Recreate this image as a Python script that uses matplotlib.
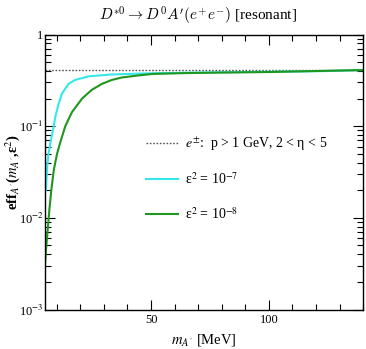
import matplotlib
matplotlib.use("Agg")
import matplotlib.pyplot as plt
from matplotlib.lines import Line2D
from matplotlib.ticker import FixedLocator, LogLocator, FuncFormatter, NullFormatter
import numpy as np

plt.rcParams['font.family'] = ['Liberation Serif', 'DejaVu Serif']
plt.rcParams['mathtext.fontset'] = 'stix'

# efficiency curves
m_cyan = [5.42, 5.85, 6.48, 7.25, 8.26, 9.36, 10.8, 12.2, 15.0, 17.8, 23.5, 32.0, 37.6,
          50, 70, 90, 110, 125, 140]
eff_cyan = [0.020, 0.035, 0.050, 0.065, 0.088, 0.126, 0.177, 0.227, 0.29, 0.32, 0.35, 0.365, 0.37,
            0.378, 0.385, 0.39, 0.395, 0.40, 0.41]

m_green = [5.0, 5.42, 6.14, 6.82, 7.67, 8.69, 10.1, 11.5, 13.6, 16.4, 20.7, 24.9, 29.2, 33.4, 37.6,
           45.3, 50.8, 65, 80, 100, 120, 140]
eff_green = [0.0031, 0.0045, 0.0074, 0.0121, 0.020, 0.033, 0.05, 0.067, 0.1, 0.142, 0.2, 0.25, 0.29,
             0.32, 0.34, 0.36, 0.372, 0.38, 0.385, 0.39, 0.40, 0.41]

acc_level = 0.41

fig = plt.figure(figsize=(3.66, 3.49), dpi=100)
ax = fig.add_axes([0.123, 0.113, 0.869, 0.788])

ax.axhline(acc_level, color='#555555', ls=(0, (1.2, 1.2)), lw=1.0)
ax.plot(m_cyan, eff_cyan, color='#33e8e8', lw=1.5)
ax.plot(m_green, eff_green, color='#1f961f', lw=1.5)

ax.set_yscale('log')
ax.set_xlim(5, 140)
ax.set_ylim(1e-3, 1)

ax.xaxis.set_major_locator(FixedLocator([50, 100]))
ax.xaxis.set_minor_locator(FixedLocator([x for x in range(10, 141, 10) if x not in (50, 100)]))
ax.yaxis.set_major_locator(LogLocator(base=10))
ax.yaxis.set_minor_locator(LogLocator(base=10, subs=np.arange(2, 10)))
ax.yaxis.set_minor_formatter(NullFormatter())


def ylab(v, pos):
    if v >= 1:
        return '1'
    return r'10$^{%d}$' % int(round(np.log10(v)))


ax.yaxis.set_major_formatter(FuncFormatter(ylab))
ax.tick_params(which='both', direction='in', top=True, right=True, labelsize=9, width=0.8)
ax.tick_params(which='major', length=7)
ax.tick_params(which='minor', length=4)
ax.tick_params(axis='y', pad=1)
for s in ax.spines.values():
    s.set_linewidth(1.0)

ax.set_xlabel(r"$m_{A'}$ [MeV]", fontsize=10.5, labelpad=4)
ax.set_ylabel(r"eff$_{A'}$($m_{A'}$,ε$^{2}$)", fontsize=10.5, fontweight='bold')
ax.yaxis.set_label_coords(-0.072, 0.5)

fig.text(0.54, 0.955, r"$D^{*0}\rightarrow D^{0}A'(e^{+}e^{-})$ [resonant]", ha='center', va='center',
         fontsize=11, math_fontfamily='cm')

handles = [Line2D([], [], color='#555555', ls=(0, (1.2, 1.2)), lw=1.0),
           Line2D([], [], color='#33e8e8', lw=1.5),
           Line2D([], [], color='#1f961f', lw=1.5)]
labels = [r"$e^{\pm}$:  p > 1 GeV, 2 < η < 5", r"ε$^{2}$ = 10$^{-7}$", r"ε$^{2}$ = 10$^{-8}$"]
ax.legend(handles, labels, loc='upper left', bbox_to_anchor=(0.3, 0.654), frameon=False, fontsize=10,
          labelspacing=1.35, handlelength=2.3, handletextpad=0.5, borderaxespad=0)

fig.savefig('out.png', dpi=100)
